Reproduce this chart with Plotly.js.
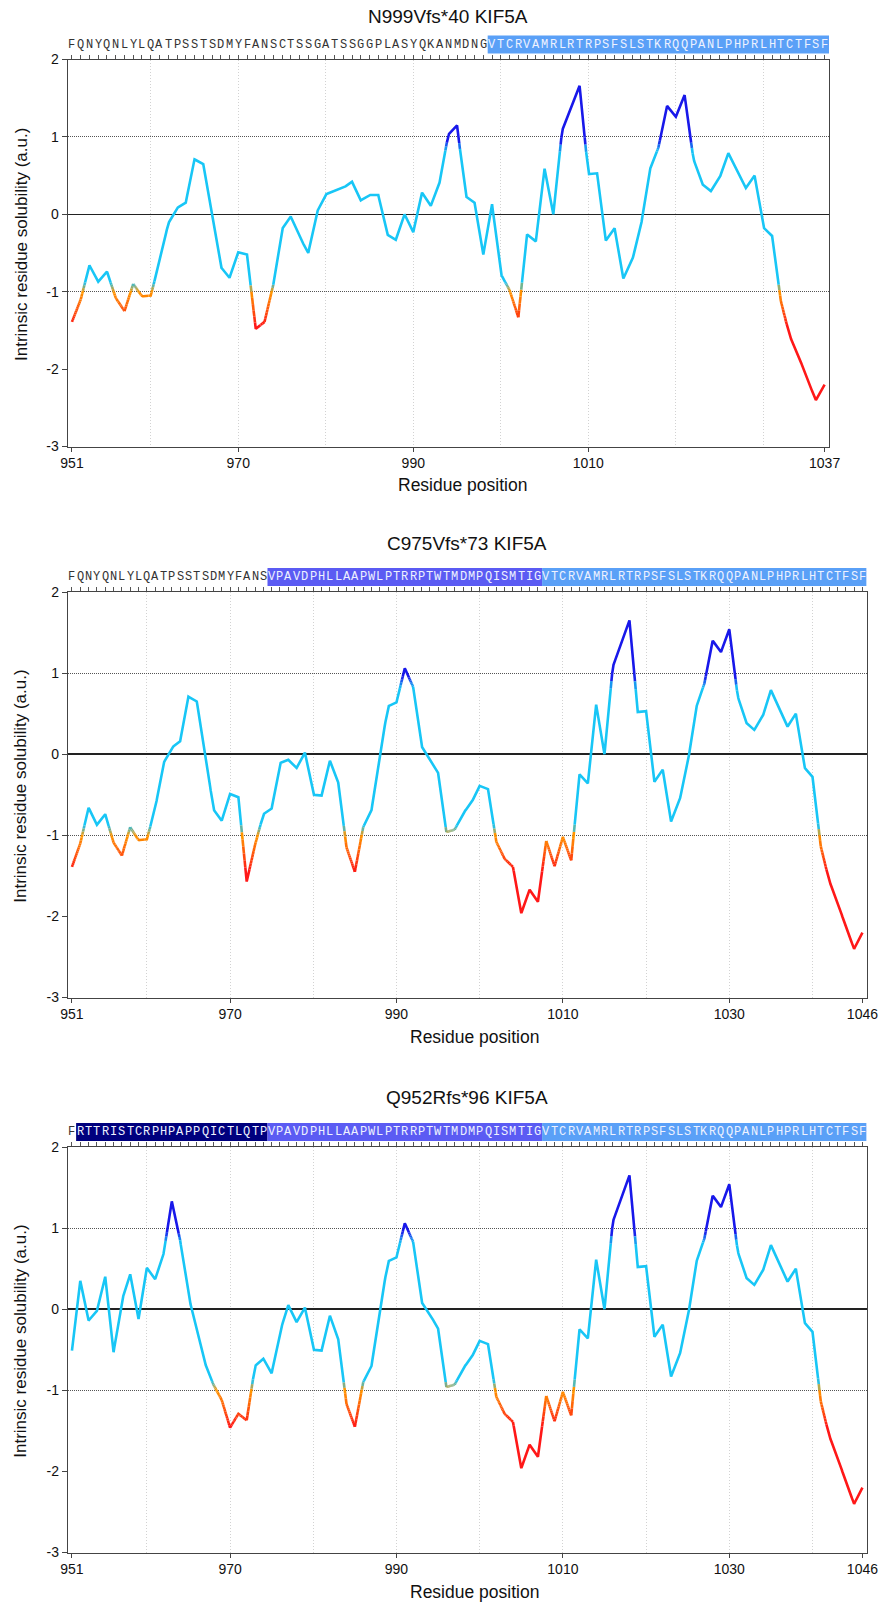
<!DOCTYPE html>
<html>
<head>
<meta charset="utf-8">
<script src="https://cdn.plot.ly/plotly-3.0.1.min.js"></script>
<style>html,body{margin:0;padding:0;background:#fff;}#chart{width:885px;height:1607px;}</style>
</head>
<body>
<div id="chart"></div>
<script>
// ---------------- DATA ----------------
const titles = ['N999Vfs*40 KIF5A', 'C975Vfs*73 KIF5A', 'Q952Rfs*96 KIF5A'];
const firstResidue = 951;
const lastResidue = [1037, 1046, 1046];
const xTickVals = [
  [951, 970, 990, 1010, 1037],
  [951, 970, 990, 1010, 1030, 1046],
  [951, 970, 990, 1010, 1030, 1046]
];
const yTickVals = [-3, -2, -1, 0, 1, 2];
const yTickText = ['-3', '-2', '-1', '0', '1', '2'];

// sequences (one letter per residue, starting at 951)
const seqWT = 'FQNYQNLYLQATPSSTSDMYFANS';
const seqN999 = 'CTSSGATSSGGPLASYQKANMDNG';
const seqFrameA = 'RTTRISTCRPHPAPPQICTLQTP';
const seqFrameB = 'VPAVDPHLLAAPWLPTRRPTWTMDMPQISMTIG';
const seqFrameC = 'VTCRVAMRLRTRPSFSLSTKRQQPANLPHPRLHTCTFSF';
const seq1 = seqWT + seqN999 + seqFrameC;
const seq2 = seqWT + seqFrameB + seqFrameC;
const seq3 = 'F' + seqFrameA + seqFrameB + seqFrameC;

// highlighted regions [start, end, colour]
const regions1 = [[999, 1037, '#5aa0f7']];
const regions2 = [[975, 1007, '#5b5bf3'], [1008, 1046, '#5aa0f7']];
const regions3 = [[952, 974, '#00007e'], [975, 1007, '#5b5bf3'], [1008, 1046, '#5aa0f7']];

// intrinsic solubility profiles (residues 951..end)
const score1 = [
  -1.39, -1.10, -0.66, -0.87, -0.74, -1.08, -1.25, -0.90, -1.06, -1.05,
  -0.61, -0.12, 0.08, 0.15, 0.71, 0.65, 0.00, -0.68, -0.82, -0.49,
  -0.52, -1.48, -1.39, -0.91, -0.19, -0.03, -0.29, -0.50, 0.03, 0.26,
  0.30, 0.34, 0.42, 0.18, 0.25, 0.25, -0.26, -0.33, 0.00, -0.23,
  0.28, 0.11, 0.41, 1.03, 1.15, 0.23, 0.15, -0.52, 0.13, -0.77,
  -0.98, -1.33, -0.26, -0.35, 0.59, 0.00, 1.08, 1.37, 1.66, 0.52,
  0.53, -0.34, -0.18, -0.83, -0.60, -0.16, 0.57, 0.86, 1.40, 1.26,
  1.54, 0.72, 0.39, 0.30, 0.47, 0.79, 0.57, 0.34, 0.50, -0.17,
  -0.28, -1.12, -1.57, -1.82, -2.13, -2.40, -2.20
];
const score2 = [
  -1.39, -1.10, -0.66, -0.87, -0.74, -1.09, -1.25, -0.90, -1.06, -1.05,
  -0.67, -0.11, 0.08, 0.16, 0.71, 0.65, 0.03, -0.68, -0.82, -0.49,
  -0.53, -1.57, -1.12, -0.74, -0.67, -0.11, -0.07, -0.17, 0.02, -0.50,
  -0.51, -0.08, -0.35, -1.15, -1.45, -0.90, -0.69, 0.00, 0.59, 0.64,
  1.06, 0.83, 0.10, -0.06, -0.23, -0.96, -0.93, -0.73, -0.60, -0.39,
  -0.43, -1.08, -1.29, -1.39, -1.96, -1.67, -1.82, -1.07, -1.38, -1.02,
  -1.31, -0.25, -0.36, 0.61, 0.00, 1.08, 1.36, 1.65, 0.52, 0.53,
  -0.34, -0.19, -0.83, -0.58, -0.12, 0.57, 0.87, 1.40, 1.26, 1.54,
  0.72, 0.39, 0.30, 0.46, 0.79, 0.57, 0.34, 0.50, -0.16, -0.28,
  -1.14, -1.56, -1.82, -2.13, -2.40, -2.20
];
const score3 = [
  -0.51, 0.35, -0.14, -0.02, 0.40, -0.53, 0.11, 0.43, -0.12, 0.51,
  0.37, 0.68, 1.33, 0.85, 0.17, -0.26, -0.67, -0.93, -1.12, -1.46,
  -1.29, -1.37, -0.70, -0.61, -0.79, -0.28, 0.05, -0.16, 0.02, -0.50,
  -0.51, -0.08, -0.37, -1.17, -1.45, -0.90, -0.70, 0.00, 0.59, 0.64,
  1.06, 0.83, 0.09, -0.06, -0.24, -0.96, -0.93, -0.73, -0.60, -0.39,
  -0.43, -1.08, -1.29, -1.39, -1.96, -1.67, -1.82, -1.07, -1.38, -1.02,
  -1.31, -0.25, -0.36, 0.61, 0.00, 1.08, 1.36, 1.65, 0.52, 0.53,
  -0.34, -0.19, -0.83, -0.58, -0.12, 0.57, 0.87, 1.40, 1.26, 1.54,
  0.72, 0.39, 0.30, 0.46, 0.79, 0.57, 0.34, 0.50, -0.16, -0.28,
  -1.14, -1.56, -1.82, -2.13, -2.40, -2.20
];

// ---------------- LAYOUT GEOMETRY (pixels) ----------------
const W = 885, H = 1607;
const panelBox = [
  {top: 59.5, bottom: 446.5, left: 67.6, right: 829.0, titleY: 17, xTitleY: 485, xTitleX: 462},
  {top: 592.0, bottom: 997.5, left: 67.8, right: 866.6, titleY: 543, xTitleY: 1037, xTitleX: 474},
  {top: 1147.0, bottom: 1552.5, left: 67.8, right: 866.6, titleY: 1097, xTitleY: 1592, xTitleX: 474}
];
const seqs = [seq1, seq2, seq3];
const scores = [score1, score2, score3];
const regionSets = [regions1, regions2, regions3];

const FONT = 'Arial, "Liberation Sans", sans-serif';
const MONO = '"Courier New", "Liberation Mono", monospace';

function px2x(p) { return p / W; }
function px2y(p) { return 1 - p / H; }

// colour scale for the solubility profile
const CYAN = [22, 196, 245], BLUE = [25, 25, 235], ORANGE = [255, 150, 0], RED = [255, 22, 22];
function mix(a, b, t) { t = Math.max(0, Math.min(1, t)); return a.map((v, i) => v + (b[i] - v) * t); }
function cmap(v) {
  if (v >= 0.95) return BLUE;
  if (v > 0.82) return mix(CYAN, BLUE, (v - 0.82) / 0.13);
  if (v >= -0.88) return CYAN;
  if (v > -1.0) return mix(ORANGE, CYAN, (v + 1.0) / 0.12);
  if (v > -1.45) return mix(RED, ORANGE, (v + 1.45) / 0.45);
  return RED;
}
function key(c) { return 'rgb(' + c.map(v => Math.round(v / 6) * 6).map(v => Math.min(255, v)).join(',') + ')'; }

const traces = [];
const shapes = [];
const annotations = [];
const layout = {
  width: W, height: H,
  margin: {l: 0, r: 0, t: 0, b: 0},
  paper_bgcolor: '#fff', plot_bgcolor: '#fff',
  showlegend: false, hovermode: false,
  font: {family: FONT, size: 14, color: '#111'}
};

for (let p = 0; p < 3; p++) {
  const b = panelBox[p];
  const sfx = p === 0 ? '' : String(p + 1);
  const xs = 'x' + sfx, ys = 'y' + sfx;
  const ovx = 'x' + (p + 4), ovy = 'y' + (p + 4);
  const xr = [firstResidue - 0.5, lastResidue[p] + 0.5];
  const xdom = [px2x(b.left), px2x(b.right)];
  const ydom = [px2y(b.bottom), px2y(b.top)];

  layout['xaxis' + sfx] = {
    domain: xdom, range: xr, anchor: ys,
    tickmode: 'array', tickvals: xTickVals[p],
    ticks: 'outside', ticklen: 4, tickwidth: 1, tickcolor: '#444',
    showgrid: false, zeroline: false,
    showline: true, linecolor: '#444', linewidth: 1, mirror: true,
    tickfont: {family: FONT, size: 14, color: '#111'}, fixedrange: true
  };
  layout['yaxis' + sfx] = {
    domain: ydom, range: [-3, 2], anchor: xs,
    tickmode: 'array', tickvals: yTickVals, ticktext: yTickText,
    ticks: 'outside', ticklen: 5, tickwidth: 1, tickcolor: '#444',
    showgrid: false,
    zeroline: true, zerolinecolor: '#222', zerolinewidth: 1.6,
    showline: true, linecolor: '#444', linewidth: 1, mirror: true,
    tickfont: {family: FONT, size: 14, color: '#111'}, fixedrange: true
  };
  // top axis: residue ticks + vertical grid every 10
  layout['xaxis' + (p + 4)] = {
    overlaying: xs, side: 'top', anchor: ys, range: xr,
    tickmode: 'linear', tick0: 950, dtick: 10,
    ticks: 'outside', ticklen: 4, tickwidth: 1, tickcolor: '#555',
    showticklabels: false, showline: false, zeroline: false,
    showgrid: true, gridcolor: '#d2d2d2', griddash: '1px,2px', gridwidth: 1,
    minor: {tick0: 950, dtick: 1, ticks: 'outside', ticklen: 4, tickwidth: 1, tickcolor: '#555', showgrid: false},
    fixedrange: true
  };
  // overlay y axis: dotted reference lines at +/-1
  layout['yaxis' + (p + 4)] = {
    overlaying: ys, anchor: xs, range: [-3, 2],
    tickmode: 'array', tickvals: [-1, 1],
    ticks: '', showticklabels: false, showline: false, zeroline: false,
    showgrid: true, gridcolor: '#555', griddash: '1px,1px', gridwidth: 1,
    fixedrange: true
  };
  traces.push({type: 'scatter', mode: 'lines', x: [], y: [], xaxis: ovx, yaxis: ovy, showlegend: false, hoverinfo: 'skip'});

  // profile line, coloured by value
  const vals = scores[p];
  const N = 12;
  let run = null;
  const runs = [];
  for (let i = 0; i < vals.length - 1; i++) {
    const x0 = firstResidue + i, v0 = vals[i], v1 = vals[i + 1];
    for (let k = 0; k < N; k++) {
      const t0 = k / N, t1 = (k + 1) / N;
      const c = key(cmap(v0 + (v1 - v0) * (t0 + t1) / 2));
      const xa = x0 + t0, ya = v0 + (v1 - v0) * t0;
      const xb = x0 + t1, yb = v0 + (v1 - v0) * t1;
      if (!run || run.color !== c) {
        run = {color: c, x: [xa], y: [ya]};
        runs.push(run);
      }
      run.x.push(xb); run.y.push(yb);
    }
  }
  runs.forEach(r => traces.push({
    type: 'scatter', mode: 'lines', x: r.x, y: r.y, xaxis: xs, yaxis: ys,
    line: {color: r.color, width: 2.6}, showlegend: false, hoverinfo: 'skip'
  }));

  // sequence strip
  const stripTop = px2y(b.top - 24), stripBot = px2y(b.top - 6), textY = px2y(b.top - 15);
  const regs = regionSets[p];
  regs.forEach(r => shapes.push({
    type: 'rect', xref: xs, yref: 'paper', x0: r[0] - 0.5, x1: r[1] + 0.5,
    y0: stripBot, y1: stripTop, fillcolor: r[2], line: {width: 0}, layer: 'above'
  }));
  const seq = seqs[p];
  for (let i = 0; i < seq.length; i++) {
    const res = firstResidue + i;
    const inside = regs.some(r => res >= r[0] && res <= r[1]);
    annotations.push({
      xref: xs, yref: 'paper', x: res, y: textY, text: seq[i], showarrow: false,
      xanchor: 'center', yanchor: 'middle',
      font: {family: MONO, size: 12, color: inside ? '#eef2ff' : '#333'}
    });
  }

  // titles
  annotations.push({
    xref: 'paper', yref: 'paper', x: px2x((b.left + b.right) / 2), y: px2y(b.titleY),
    text: titles[p], showarrow: false, xanchor: 'center', yanchor: 'middle',
    font: {family: FONT, size: 19, color: '#111'}
  });
  annotations.push({
    xref: 'paper', yref: 'paper', x: px2x(b.xTitleX), y: px2y(b.xTitleY),
    text: 'Residue position', showarrow: false, xanchor: 'center', yanchor: 'middle',
    font: {family: FONT, size: 17.5, color: '#111'}
  });
  annotations.push({
    xref: 'paper', yref: 'paper', x: px2x(21), y: px2y((b.top + b.bottom) / 2 - 8),
    text: 'Intrinsic residue solubility (a.u.)', showarrow: false, textangle: -90,
    xanchor: 'center', yanchor: 'middle',
    font: {family: FONT, size: 17, color: '#111'}
  });
}

layout.shapes = shapes;
layout.annotations = annotations;

Plotly.newPlot('chart', traces, layout, {displayModeBar: false, staticPlot: true});
</script>
</body>
</html>
